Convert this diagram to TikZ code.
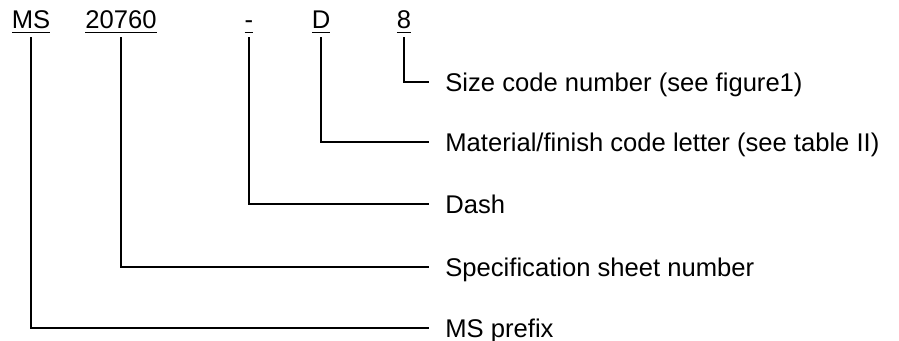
\documentclass[tikz,border=0pt]{standalone}
\usepackage{fontspec}
\setmainfont{Liberation Sans}
\usetikzlibrary{positioning}

\newcommand\partul[1]{\setbox0\hbox{#1}\rlap{\rule[-2.2pt]{\wd0}{0.75pt}}\box0}

\tikzset{
  part/.style={inner xsep=0pt, inner ysep=1.8pt, anchor=base, font=\fontsize{12.8}{15}\selectfont},
  desc/.style={inner sep=0pt, anchor=west, text height=9.2pt, text depth=0pt, font=\fontsize{12.8}{15}\selectfont},
  lead/.style={line width=0.8pt, shorten >=8pt},
}

\begin{document}
\begin{tikzpicture}[x=0.5pt, y=-0.5pt]
  \useasboundingbox (0,0) rectangle (899,341);

  %%%%% PART NUMBER %%%%%
  \node[part] (ms)    at (31,29)  {\partul{MS}};
  \node[part] (sheet) at (121,29) {\partul{20760}};
  \node[part] (dash)  at (249,29) {\partul{-}};
  \node[part] (matl)  at (321,29) {\partul{D}};
  \node[part] (size)  at (404,29) {\partul{8}};

  %%%%% DESCRIPTIONS %%%%%
  \node[desc] (sizetxt)  at (445,82)  {Size code number (see figure1)};
  \node[desc] (matltxt)  at (445,142) {Material/finish code letter (see table II)};
  \node[desc] (dashtxt)  at (445,204) {Dash};
  \node[desc] (sheettxt) at (445,267) {Specification sheet number};
  \node[desc] (mstxt)    at (445,328) {MS prefix};

  %%%%% LEADERS %%%%%
  \draw[lead] (size.south)  |- (sizetxt.west);
  \draw[lead] (matl.south)  |- (matltxt.west);
  \draw[lead] (dash.south)  |- (dashtxt.west);
  \draw[lead] (sheet.south) |- (sheettxt.west);
  \draw[lead] (ms.south)    |- (mstxt.west);
\end{tikzpicture}
\end{document}
